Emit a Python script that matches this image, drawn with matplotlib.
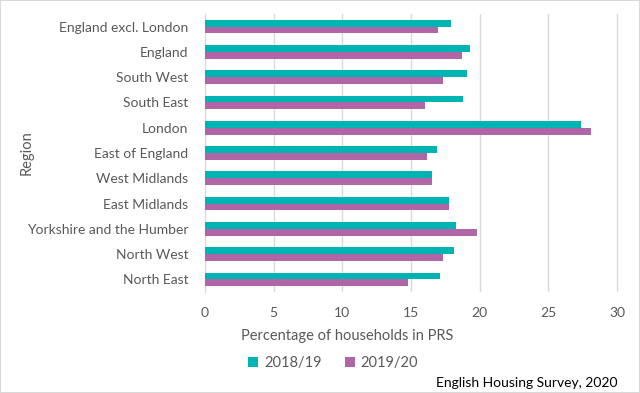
import matplotlib
matplotlib.use("Agg")
import matplotlib.pyplot as plt
import numpy as np

# regions listed bottom to top as drawn
regions = ["North East", "North West", "Yorkshire and the Humber", "East Midlands",
           "West Midlands", "East of England", "London", "South East",
           "South West", "England", "England excl. London"]
y2018 = [17.1, 18.1, 18.3, 17.8, 16.5, 16.9, 27.4, 18.8, 19.1, 19.3, 17.9]
y2019 = [14.8, 17.3, 19.8, 17.8, 16.5, 16.2, 28.1, 16.0, 17.3, 18.7, 17.0]
series = ["2018/19", "2019/20"]
xticks = [0, 5, 10, 15, 20, 25, 30]

teal = "#00B4B4"
purple = "#B066A6"
grey = "#595959"

plt.rcParams['font.family'] = ['Lato', 'DejaVu Sans']

fig = plt.figure(figsize=(6.4, 3.93), dpi=100)
ax = fig.add_axes([205/640, 1-292/393, (632-205)/640, (292-14)/393])

pos = np.arange(len(regions))
h = 0.27
ax.barh(pos + h/2, y2018, height=h, color=teal, label=series[0], zorder=3)
ax.barh(pos - h/2, y2019, height=h, color=purple, label=series[1], zorder=3)

ax.set_ylim(-0.5, len(regions) - 0.5)
ax.set_xlim(0, 31.1)
ax.set_xticks(xticks)
ax.set_yticks(pos)
ax.set_yticklabels(regions)
ax.tick_params(axis='both', length=0, colors=grey, labelsize=10)
ax.tick_params(axis='y', pad=12)
ax.tick_params(axis='x', pad=11)
ax.grid(axis='x', color='#D9D9D9', linewidth=1, zorder=0)
for s in ['top', 'right', 'bottom']:
    ax.spines[s].set_visible(False)
ax.spines['left'].set_color('#D9D9D9')

fig.text(27/640, 1-153/393, "Region", rotation=90, ha='center', va='center',
         color=grey, fontsize=10.5)
fig.text(347/640, 1-336/393, "Percentage of households in PRS", ha='center', va='center',
         color=grey, fontsize=10.5)
fig.legend(loc='center', bbox_to_anchor=(333/640, 1-363/393), ncol=2, frameon=False,
           fontsize=10.5, labelcolor=grey, handlelength=0.7, handleheight=0.7,
           handletextpad=0.4, columnspacing=1.6)
fig.text(617/640, 1-383/393, "English Housing Survey, 2020", ha='right', va='center',
         color='black', fontsize=10)

# light border round the figure
fig.patches.append(plt.Rectangle((0, 0), 1, 1, transform=fig.transFigure, fill=False,
                                 edgecolor='#D9D9D9', linewidth=1.5))

fig.savefig("out.png", dpi=100)
